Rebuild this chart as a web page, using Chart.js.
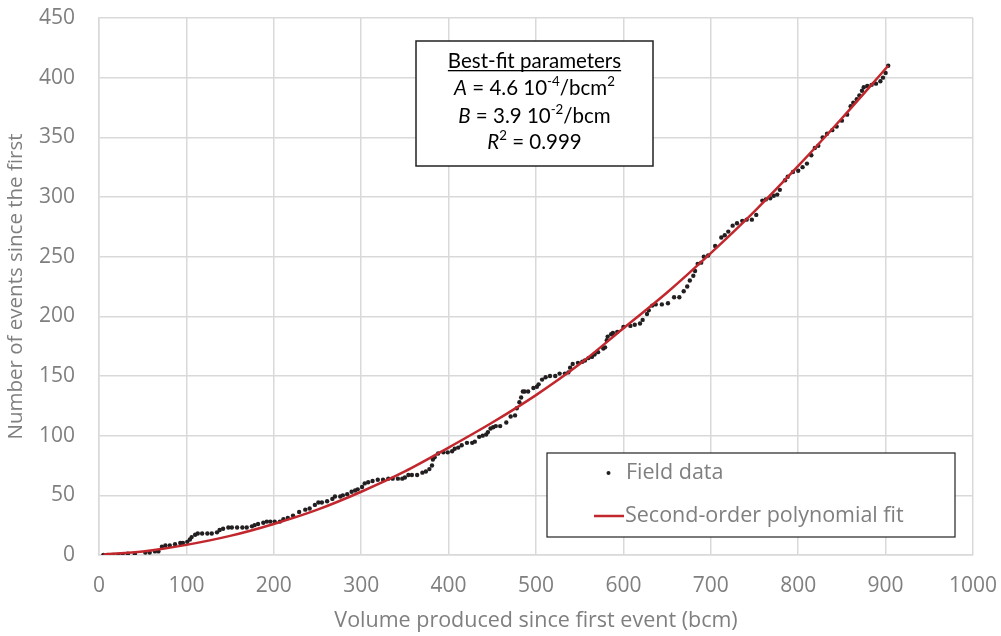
<!DOCTYPE html>
<html lang="en">
<head>
<meta charset="UTF-8">
<title>Events since the first vs volume produced</title>
<script src="https://cdn.jsdelivr.net/npm/chart.js@4.4.1/dist/chart.umd.min.js"></script>
<style>
  html, body { margin: 0; padding: 0; background: #fff; }
  #wrap { width: 1001px; height: 636px; }
</style>
</head>
<body>
<div id="wrap"><canvas id="chart" width="1001" height="636"></canvas></div>
<script>
// field data: volume produced (bcm) and cumulative number of events
const fieldX = [5,10,16,22,27,33,41,53,58,64,68,72,76,81,87,93,96,101,104,106,110,113,118,124,129,135,138,142,148,152,158,164,169,175,178,182,188,192,196,201,207,211,216,222,
  229,236,241,247,251,255,261,267,270,276,279,284,289,293,296,301,304,308,313,319,325,331,336,342,347,350,354,358,364,370,374,378,381,382,384,388,394,399,404,407,411,415,421,427,430,
  435,439,443,445,448,451,454,459,466,471,476,478,481,483,485,487,491,497,501,503,507,511,516,522,527,533,537,539,542,548,553,556,560,564,567,
  571,577,579,581,582,586,588,593,600,608,613,619,622,627,629,633,637,644,651,658,664,669,673,676,680,682,685,689,692,697,
  705,712,716,720,725,730,736,741,747,752,759,763,768,772,776,779,785,788,794,800,805,810,815,819,823,828,833,839,844,850,856,860,863,867,870,873,875,879,884,889,894,897,900,903];
const fieldY = [0,0,0,0,0,1,1,2,2,3,3,7,8,8,9,10,10,11,13,15,17,18,18,18,18,19,21,22,23,23,23,23,23,24,25,26,27,28,28,28,28,30,31,33,
  36,38,39,42,44,44,45,47,49,49,50,51,53,54,55,57,60,61,62,63,63,64,64,64,64,65,67,67,67,69,70,72,75,80,82,85,86,86,87,89,90,92,94,94,95,
  99,100,101,103,106,107,108,108,111,116,117,123,128,132,137,137,137,140,141,143,147,149,150,150,152,152,153,157,160,161,162,163,165,166,168,
  170,173,174,180,183,185,186,187,191,192,193,194,197,202,205,209,210,210,211,216,216,221,225,230,234,238,244,245,250,251,
  259,266,268,271,276,278,280,281,281,285,297,298,299,301,302,306,314,317,321,322,325,328,335,341,343,350,353,356,359,364,369,376,379,382,385,389,392,393,394,395,397,400,404,410];

// red fit curve
const fitX = [5,50,100,150,200,250,300,350,400,450,500,550,600,650,700,750,800,850,903];
const fitY = [0.5,3,8.5,16,26,38,53,70,90,111,134,160,190,220,253,288,326,366,410];

const seriesNames = ['Field data', 'Second-order polynomial fit'];
const fitBox = [
  [{t: 'Best-fit parameters'}],
  [{t: 'A', it: 1}, {t: ' = 4.6 10'}, {t: '-4', sup: 1}, {t: '/bcm'}, {t: '2', sup: 1}],
  [{t: 'B', it: 1}, {t: ' = 3.9 10'}, {t: '-2', sup: 1}, {t: '/bcm'}],
  [{t: 'R', it: 1}, {t: '2', sup: 1}, {t: ' = 0.999'}]
];

const FONT = '"Open Sans"';
const BOX_FONT = 'Lato';
const GREY = '#7f7f7f';
const RED = '#c1272d';
const DOT = '#231f20';

function fontStr(size, italic, fam) {
  return (italic ? 'italic ' : '') + size + 'px ' + (fam || FONT);
}

function drawRich(ctx, parts, cx, cy, size) {
  let total = 0;
  parts.forEach(p => {
    ctx.font = fontStr(p.sup ? size * 0.65 : size, p.it, BOX_FONT);
    p.w = ctx.measureText(p.t).width;
    total += p.w;
  });
  let x = cx - total / 2;
  ctx.textBaseline = 'middle';
  ctx.textAlign = 'left';
  parts.forEach(p => {
    ctx.font = fontStr(p.sup ? size * 0.65 : size, p.it, BOX_FONT);
    ctx.fillText(p.t, x, p.sup ? cy - size * 0.3 : cy);
    x += p.w;
  });
  return total;
}

const boxesPlugin = {
  id: 'boxes',
  afterDraw(chart) {
    const ctx = chart.ctx;
    ctx.save();

    // parameters box
    ctx.fillStyle = '#fff';
    ctx.fillRect(416, 41, 237, 125);
    ctx.strokeStyle = '#222';
    ctx.lineWidth = 1.5;
    ctx.strokeRect(416, 41, 237, 125);
    ctx.fillStyle = '#000';
    const lineY = [61, 88, 116, 142];
    fitBox.forEach((parts, i) => {
      const w = drawRich(ctx, parts, 534.5, lineY[i], 20.5);
      if (i === 0) {
        ctx.fillRect(534.5 - w / 2, 70, w, 1.3);
      }
    });

    // legend box
    ctx.fillStyle = '#fff';
    ctx.fillRect(547, 453, 408, 84);
    ctx.strokeStyle = '#222';
    ctx.lineWidth = 1.2;
    ctx.strokeRect(547, 453, 408, 84);
    ctx.fillStyle = DOT;
    ctx.beginPath();
    ctx.arc(608.5, 473, 2, 0, Math.PI * 2);
    ctx.fill();
    ctx.strokeStyle = RED;
    ctx.lineWidth = 2.5;
    ctx.beginPath();
    ctx.moveTo(594, 516);
    ctx.lineTo(624, 516);
    ctx.stroke();
    ctx.fillStyle = GREY;
    ctx.font = fontStr(21.5);
    ctx.textBaseline = 'middle';
    ctx.textAlign = 'left';
    ctx.fillText(seriesNames[0], 626, 473);
    ctx.fillText(seriesNames[1], 625, 516);
    ctx.restore();
  }
};

new Chart(document.getElementById('chart'), {
  type: 'scatter',
  data: {
    datasets: [{
      label: seriesNames[1],
      data: fitX.map((x, i) => ({x: x, y: fitY[i]})),
      showLine: true,
      borderColor: RED,
      borderWidth: 2.5,
      pointRadius: 0,
      cubicInterpolationMode: 'monotone',
      order: 0
    }, {
      label: seriesNames[0],
      data: fieldX.map((x, i) => ({x: x, y: fieldY[i]})),
      pointRadius: 2.2,
      pointBorderWidth: 0,
      pointBackgroundColor: DOT,
      pointBorderColor: DOT,
      order: 1
    }]
  },
  options: {
    responsive: false,
    animation: false,
    layout: {padding: {top: 18, right: 28, left: 0, bottom: 0}},
    plugins: {
      legend: {display: false},
      tooltip: {enabled: false}
    },
    scales: {
      x: {
        type: 'linear',
        min: 0,
        max: 1000,
        ticks: {stepSize: 100, color: GREY, font: {family: FONT, size: 21}, padding: 18, maxRotation: 0,
                callback: v => String(v)},
        grid: {color: '#d9d9d9', lineWidth: 1.5, drawTicks: false},
        border: {color: '#d9d9d9', width: 1.5},
        title: {display: true, text: 'Volume produced since first event (bcm)', color: GREY,
                font: {family: FONT, size: 21.5}, padding: {top: 0, bottom: 2}},
        afterFit(s) { s.height = 81; s.paddingLeft = 0; s.paddingRight = 0; }
      },
      y: {
        min: 0,
        max: 450,
        ticks: {stepSize: 50, color: GREY, font: {family: FONT, size: 21}, padding: 24},
        grid: {color: '#d9d9d9', lineWidth: 1.5, drawTicks: false},
        border: {color: '#d9d9d9', width: 1.5},
        title: {display: true, text: 'Number of events since the first', color: GREY,
                font: {family: FONT, size: 20.5}, padding: {top: 4, bottom: 0}},
        afterFit(s) { s.width = 99; s.paddingTop = 0; s.paddingBottom = 0; }
      }
    }
  },
  plugins: [boxesPlugin]
});
</script>
</body>
</html>
